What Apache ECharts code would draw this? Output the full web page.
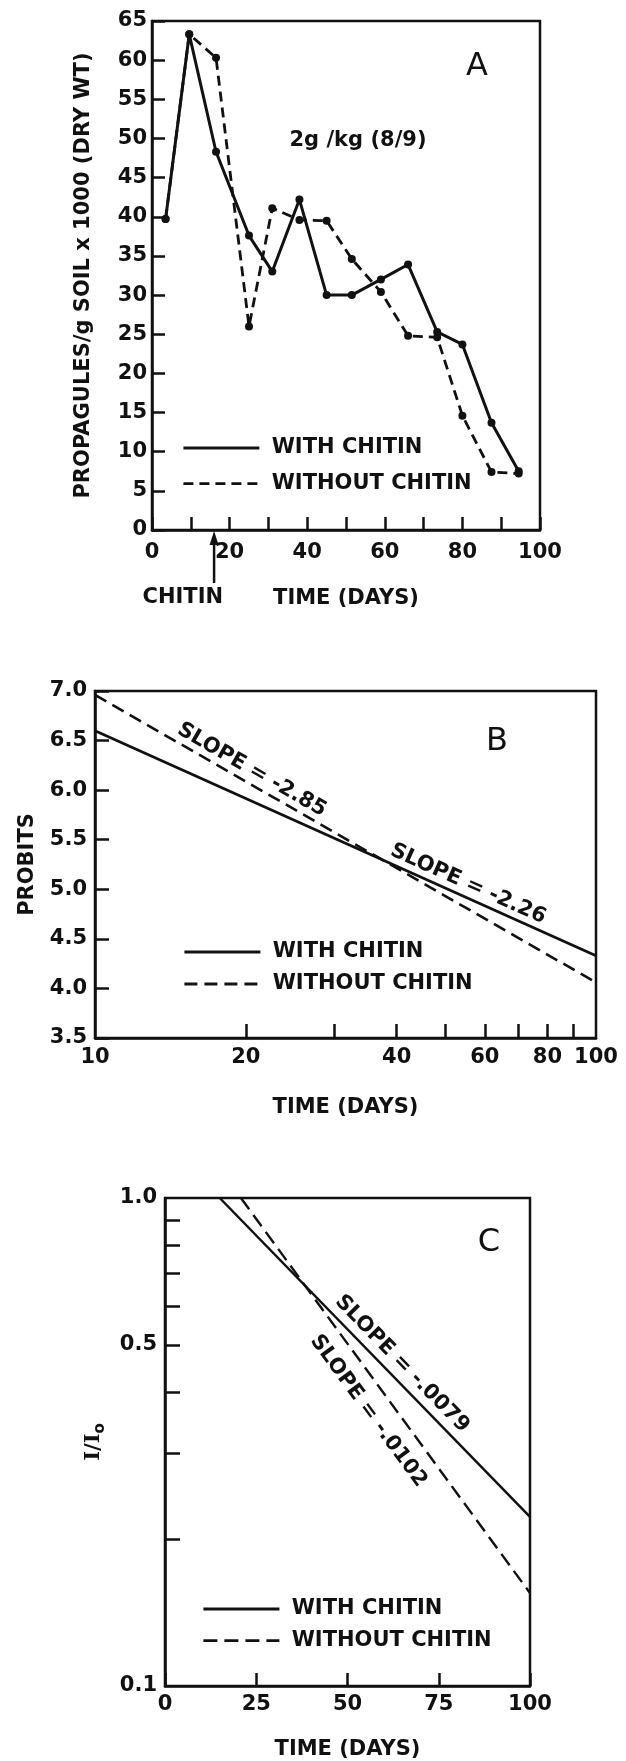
<!DOCTYPE html>
<html>
<head>
<meta charset="utf-8">
<script src="https://cdn.jsdelivr.net/npm/echarts@6/dist/echarts.min.js"></script>
<style>
html,body{margin:0;padding:0;background:#fff;}
#c{width:626px;height:1761px;}
</style>
</head>
<body>
<div id="c"></div>
<script>
// ---------- Panel A data ----------
const daysA = [3.5, 9.6, 16.5, 25, 31, 38, 45, 51.5, 59, 66, 73.5, 80, 87.5, 94.5];
const withChitinA = [39.7, 63.3, 48.3, 37.6, 33.0, 42.2, 30.0, 30.0, 32.0, 33.9, 25.3, 23.7, 13.7, 7.5];
const withoutChitinA = [39.7, 63.3, 60.3, 26.0, 41.1, 39.6, 39.5, 34.6, 30.4, 24.8, 24.6, 14.6, 7.4, 7.2];
const xLabelsA = [0, 20, 40, 60, 80, 100];
const chitinDay = 16;

// ---------- Panel B data ----------
const daysB = [10, 100];
const withChitinB = [6.60, 4.33];
const withoutChitinB = [6.96, 4.06];
const xTicksB = [20, 30, 40, 50, 60, 70, 80, 90];
const xLabelsB = [10, 20, 40, 60, 80, 100];

// ---------- Panel C data ----------
const daysWithC = [15, 100];
const withChitinC = [1.0, 0.222];
const daysWithoutC = [20.8, 100];
const withoutChitinC = [1.0, 0.155];
const yTicksC = [0.2, 0.3, 0.4, 0.5, 0.6, 0.7, 0.8, 0.9];
const yLabelsC = [0.1, 0.5, 1.0];

const FONT = 'DejaVu Sans';
const INK = '#111';
const zip = (xs, ys) => xs.map((x, i) => [x, ys[i]]);
const txt = (size, weight) => ({ color: INK, fontFamily: FONT, fontSize: size, fontWeight: weight || 'bold' });

function axis(o) {
  const base = {
    axisLine: { show: true, lineStyle: { color: INK, width: 2.5 } },
    axisTick: { show: true, inside: true, length: 13, lineStyle: { color: INK, width: 2.5 } },
    splitLine: { show: false },
    nameLocation: 'middle',
    nameTextStyle: txt(21)
  };
  const r = Object.assign({}, base, o);
  r.axisTick = Object.assign({}, base.axisTick, o.axisTick || {});
  r.axisLabel = Object.assign(txt(21), o.axisLabel || {});
  return r;
}

const chart = echarts.init(document.getElementById('c'), null, { renderer: 'canvas', width: 626, height: 1761 });

const gridStyle = { show: true, borderColor: INK, borderWidth: 2.5, backgroundColor: 'transparent' };

const legendBase = {
  orient: 'vertical', itemWidth: 76, itemHeight: 2,
  formatter: n => ' ' + n.slice(0, -2),
  textStyle: Object.assign(txt(21), { lineHeight: 24 }),
  lineStyle: { width: 2.8 },
  itemStyle: { opacity: 0, borderWidth: 0 },
  selectedMode: false
};

const option = {
  animation: false,
  backgroundColor: '#fff',
  grid: [
    Object.assign({ left: 152, top: 21, width: 388, height: 509 }, gridStyle),
    Object.assign({ left: 95, top: 691, width: 501, height: 347 }, gridStyle),
    Object.assign({ left: 165, top: 1198, width: 365, height: 490 }, gridStyle)
  ],
  xAxis: [
    axis({ gridIndex: 0, type: 'value', min: 0, max: 100, interval: 10,
      axisLabel: { customValues: xLabelsA, margin: 12 },
      name: 'TIME (DAYS)', nameGap: 58 }),
    axis({ gridIndex: 1, type: 'log', logBase: 10, min: 10, max: 100,
      axisTick: { customValues: xTicksB, length: 14 },
      axisLabel: { customValues: xLabelsB, margin: 9 },
      name: 'TIME (DAYS)', nameGap: 59 }),
    axis({ gridIndex: 2, type: 'value', min: 0, max: 100, interval: 25,
      axisLabel: { margin: 8 },
      name: 'TIME (DAYS)', nameGap: 53 })
  ],
  yAxis: [
    axis({ gridIndex: 0, type: 'value', min: 0, max: 65, interval: 5,
      axisLabel: { margin: 5 },
      name: 'PROPAGULES/g SOIL x 1000 (DRY WT)', nameGap: 58 }),
    axis({ gridIndex: 1, type: 'value', min: 3.5, max: 7.0, interval: 0.5,
      axisTick: { length: 14 },
      axisLabel: { margin: 8, formatter: v => v.toFixed(1) },
      name: 'PROBITS', nameGap: 57 }),
    axis({ gridIndex: 2, type: 'log', logBase: 10, min: 0.1, max: 1,
      axisTick: { customValues: yTicksC, length: 15 },
      axisLabel: { customValues: yLabelsC, margin: 8, formatter: v => Number(v).toFixed(1) },
      name: '{m|I/I}{s|o}', nameGap: 57,
      nameTextStyle: { rich: {
        m: { fontFamily: 'DejaVu Serif', fontSize: 21, fontWeight: 'bold', color: INK, lineHeight: 28, verticalAlign: 'middle' },
        s: { fontFamily: FONT, fontSize: 15, fontWeight: 'bold', color: INK, lineHeight: 28, verticalAlign: 'bottom' }
      } } })
  ],
  legend: [
    Object.assign({}, legendBase, { data: ['WITH CHITIN A', 'WITHOUT CHITIN A'], left: 177, top: 431, itemGap: 11.7 }),
    Object.assign({}, legendBase, { data: ['WITH CHITIN B', 'WITHOUT CHITIN B'], left: 178, top: 935, itemGap: 8 }),
    Object.assign({}, legendBase, { data: ['WITH CHITIN C', 'WITHOUT CHITIN C'], left: 197, top: 1592, itemGap: 7.7 })
  ],
  series: [
    { type: 'line', name: 'WITH CHITIN A', xAxisIndex: 0, yAxisIndex: 0, data: zip(daysA, withChitinA),
      symbol: 'circle', symbolSize: 8, lineStyle: { color: INK, width: 3 }, itemStyle: { color: INK }, z: 3 },
    { type: 'line', name: 'WITHOUT CHITIN A', xAxisIndex: 0, yAxisIndex: 0, data: zip(daysA, withoutChitinA),
      symbol: 'circle', symbolSize: 8, lineStyle: { color: INK, width: 2.8, type: [10, 6] }, itemStyle: { color: INK }, z: 3 },
    { type: 'line', name: 'WITH CHITIN B', xAxisIndex: 1, yAxisIndex: 1, data: zip(daysB, withChitinB),
      symbol: 'none', lineStyle: { color: INK, width: 2.8 }, itemStyle: { color: INK } },
    { type: 'line', name: 'WITHOUT CHITIN B', xAxisIndex: 1, yAxisIndex: 1, data: zip(daysB, withoutChitinB),
      symbol: 'none', lineStyle: { color: INK, width: 2.6, type: [13, 7] }, itemStyle: { color: INK } },
    { type: 'line', name: 'WITH CHITIN C', xAxisIndex: 2, yAxisIndex: 2, data: zip(daysWithC, withChitinC),
      symbol: 'none', lineStyle: { color: INK, width: 2.5 }, itemStyle: { color: INK } },
    { type: 'line', name: 'WITHOUT CHITIN C', xAxisIndex: 2, yAxisIndex: 2, data: zip(daysWithoutC, withoutChitinC),
      symbol: 'none', lineStyle: { color: INK, width: 2.4, type: [14, 7] }, itemStyle: { color: INK } }
  ]
};

chart.setOption(option);

// ---------- annotations positioned from the axes ----------
function alongLabel(gridIndex, p0, p1, t, offset, text, size) {
  const a = chart.convertToPixel({ gridIndex }, p0);
  const b = chart.convertToPixel({ gridIndex }, p1);
  const x = a[0] + (b[0] - a[0]) * t;
  const y = a[1] + (b[1] - a[1]) * t;
  const ang = Math.atan2(b[1] - a[1], b[0] - a[0]);
  const nx = Math.sin(ang), ny = -Math.cos(ang);
  return {
    type: 'text', x: x + nx * offset, y: y + ny * offset, rotation: -ang, z: 10,
    style: Object.assign(txt(size || 20, 'bold'), { text, align: 'center', verticalAlign: 'middle', fill: INK })
  };
}
function label(x, y, text, size, weight, align) {
  return { type: 'text', x, y, z: 10,
    style: Object.assign(txt(size, weight), { text, align: align || 'center', verticalAlign: 'middle', fill: INK }) };
}

const arrowX = chart.convertToPixel({ xAxisIndex: 0 }, chitinDay);
const axisYA = chart.convertToPixel({ yAxisIndex: 0 }, 0);

const graphics = [
  label(477, 67, 'A', 32, 'normal'),
  label(358, 141, '2g /kg (8/9)', 21, 'bold'),
  label(497, 742, 'B', 32, 'normal'),
  label(489, 1243, 'C', 32, 'normal'),
  { type: 'line', z: 10, shape: { x1: arrowX, y1: axisYA + 53, x2: arrowX, y2: axisYA + 10 },
    style: { stroke: INK, lineWidth: 2.5 } },
  { type: 'polygon', z: 10, shape: { points: [[arrowX, axisYA + 1], [arrowX - 4.5, axisYA + 15], [arrowX + 4.5, axisYA + 15]] },
    style: { fill: INK } },
  label(arrowX + 9, axisYA + 68, 'CHITIN', 21, 'bold', 'right'),
  alongLabel(1, [daysB[0], withoutChitinB[0]], [daysB[1], withoutChitinB[1]], 0.30, 13, 'SLOPE = -2.85', 21),
  alongLabel(1, [daysB[0], withChitinB[0]], [daysB[1], withChitinB[1]], 0.734, 13, 'SLOPE = -2.26', 21),
  alongLabel(2, [daysWithC[0], withChitinC[0]], [daysWithC[1], withChitinC[1]], 0.553, 15, 'SLOPE = -.0079', 21),
  alongLabel(2, [daysWithoutC[0], withoutChitinC[0]], [daysWithoutC[1], withoutChitinC[1]], 0.505, -23, 'SLOPE = -.0102', 21)
];
chart.setOption({ graphic: graphics });
</script>
</body>
</html>
